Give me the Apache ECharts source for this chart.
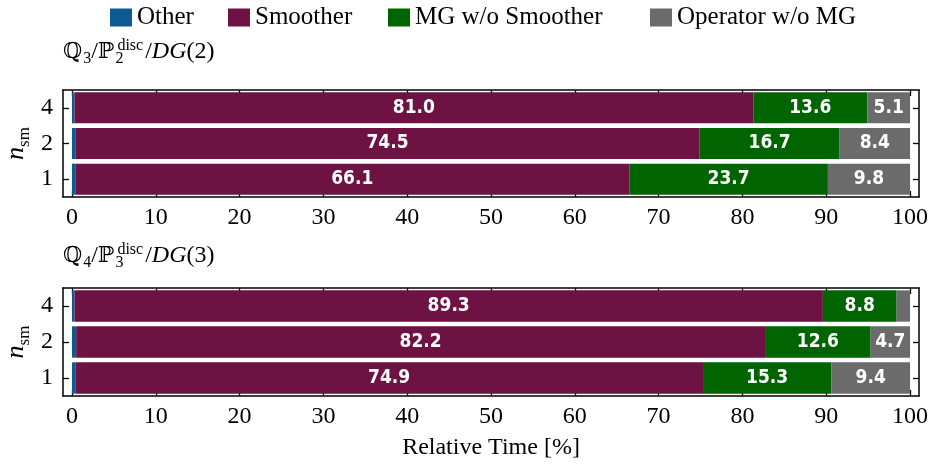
<!DOCTYPE html>
<html><head><meta charset="utf-8">
<script src="https://cdn.jsdelivr.net/npm/echarts@6/dist/echarts.min.js"></script>
<style>html,body{margin:0;padding:0;background:#fff}#c{width:930px;height:468px}</style>
</head><body><div id="c"></div>
<script>
const categories = ['1', '2', '4'];
const seriesNames = ['Other', 'Smoother', 'MG w/o Smoother', 'Operator w/o MG'];
const colors = ['#0d5a92', '#6e1143', '#006400', '#6b6b6b'];
// Top panel: Q3/P2disc/DG(2)
const topOther    = [0.4, 0.4, 0.3];
const topSmoother = [66.1, 74.5, 81.0];
const topMG       = [23.7, 16.7, 13.6];
const topOperator = [9.8, 8.4, 5.1];
// Bottom panel: Q4/P3disc/DG(3)
const botOther    = [0.4, 0.5, 0.3];
const botSmoother = [74.9, 82.2, 89.3];
const botMG       = [15.3, 12.6, 8.8];
const botOperator = [9.4, 4.7, 1.6];
const xTicks = [0, 10, 20, 30, 40, 50, 60, 70, 80, 90, 100];

const SERIF = 'Liberation Serif';
const lineStyle = {color: '#000', width: 1.5};
const tickStyle = {show: true, inside: true, length: 6, lineStyle: {color: '#000', width: 1.3}};

function xAxis(grid, pos, labels, name) {
  const a = {
    type: 'value', gridIndex: grid, position: pos, min: -1.07, max: 101.07,
    axisLine: {show: true, onZero: false, lineStyle},
    axisTick: Object.assign({customValues: xTicks}, tickStyle),
    splitLine: {show: false},
    axisLabel: {show: labels, customValues: xTicks, fontFamily: SERIF, fontSize: 24, color: '#000', margin: 9}
  };
  if (name) {
    a.name = name; a.nameLocation = 'middle'; a.nameGap = 40;
    a.nameTextStyle = {fontFamily: SERIF, fontSize: 24, color: '#000'};
  }
  return a;
}
function yAxis(grid, pos, labels) {
  const a = {
    type: 'category', gridIndex: grid, position: pos, data: categories,
    axisLine: {show: true, onZero: false, lineStyle},
    axisTick: Object.assign({alignWithLabel: true}, tickStyle),
    axisLabel: {show: labels, fontFamily: SERIF, fontSize: 24, color: '#000', margin: 10},
    splitLine: {show: false}
  };
  if (labels) {
    a.name = '{i|n}{s|sm}';
    a.nameLocation = 'middle'; a.nameRotate = 90; a.nameGap = 30; a.nameMoveOverlap = false;
    a.nameTextStyle = {fontFamily: SERIF, color: '#000', rich: {
      i: {fontFamily: SERIF, fontStyle: 'italic', fontSize: 26, color: '#000', verticalAlign: 'top', lineHeight: 30},
      s: {fontFamily: SERIF, fontSize: 17, color: '#000', verticalAlign: 'bottom', lineHeight: 30, padding: [12, 0, 0, 0]}
    }};
  }
  return a;
}

function makeSeries(grid, vals) {
  return vals.map((v, i) => ({
    name: seriesNames[i], type: 'bar', stack: 'g' + grid,
    xAxisIndex: grid * 2, yAxisIndex: grid * 2,
    barWidth: '87%', data: v, itemStyle: {color: colors[i]},
    label: {
      show: true, position: 'inside', color: '#fff', fontWeight: 'bold',
      fontFamily: 'DejaVu Sans Condensed, DejaVu Sans', fontSize: 19,
      formatter: p => (p.value >= 3 && i > 0) ? p.value.toFixed(1) : ''
    }
  }));
}

const rich = {
  bb: {fontFamily: 'DejaVu Serif', fontSize: 22, color: '#000', fontWeight: 'normal'},
  n: {fontFamily: SERIF, fontSize: 24, color: '#000', fontWeight: 'normal'},
  it: {fontFamily: SERIF, fontStyle: 'italic', fontSize: 24, color: '#000', fontWeight: 'normal'},
  sub: {fontFamily: SERIF, fontSize: 16, color: '#000', fontWeight: 'normal', padding: [14, 0, 0, 1]},
  subz: {fontFamily: SERIF, fontSize: 16, color: '#000', fontWeight: 'normal', padding: [14, 0, 0, 1], width: 2},
  sup: {fontFamily: SERIF, fontSize: 16, color: '#000', fontWeight: 'normal', padding: [0, 2, 12, 0]}
};

const legendLefts = [105, 223, 383, 645];
const legends = seriesNames.map((nm, i) => ({
  data: [nm], top: 0, left: legendLefts[i], icon: 'rect', itemWidth: 22, itemHeight: 18,
  textStyle: {fontFamily: SERIF, fontSize: 25, color: '#000'}
}));

const chart = echarts.init(document.getElementById('c'), null, {renderer: 'canvas'});
chart.setOption({
  animation: false,
  backgroundColor: '#fff',
  title: [
    {text: '{bb|ℚ}{sub|3}{n|/}{bb|ℙ}{subz|2}{sup|disc}{n|/}{it|DG}{n|(2)}', left: 58, top: 32, textStyle: {fontWeight: 'normal', rich}},
    {text: '{bb|ℚ}{sub|4}{n|/}{bb|ℙ}{subz|3}{sup|disc}{n|/}{it|DG}{n|(3)}', left: 58, top: 236, textStyle: {fontWeight: 'normal', rich}}
  ],
  legend: legends,
  grid: [
    {left: 63, top: 90, width: 856, height: 107, outerBoundsMode: 'none'},
    {left: 63, top: 288, width: 856, height: 108, outerBoundsMode: 'none'}
  ],
  xAxis: [
    xAxis(0, 'bottom', true), xAxis(0, 'top', false),
    xAxis(1, 'bottom', true, 'Relative Time [%]'), xAxis(1, 'top', false)
  ],
  yAxis: [
    yAxis(0, 'left', true), yAxis(0, 'right', false),
    yAxis(1, 'left', true), yAxis(1, 'right', false)
  ],
  series: makeSeries(0, [topOther, topSmoother, topMG, topOperator])
    .concat(makeSeries(1, [botOther, botSmoother, botMG, botOperator]))
});
</script></body></html>
